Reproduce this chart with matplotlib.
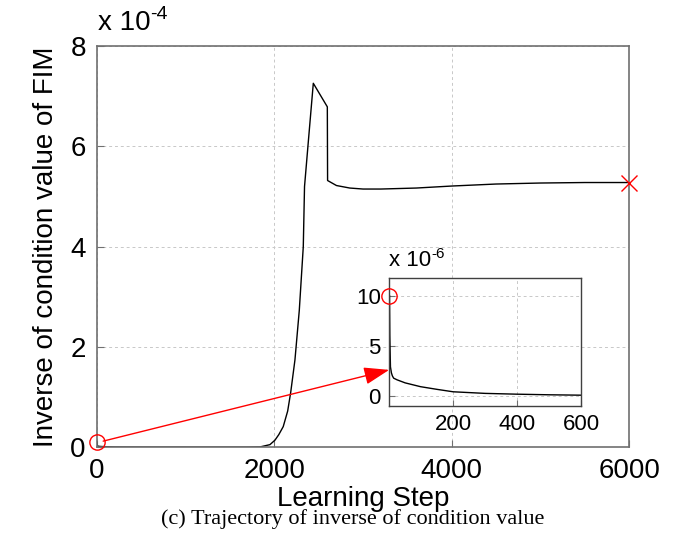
import numpy as np
import matplotlib
matplotlib.use("Agg")
import matplotlib.pyplot as plt

plt.rcParams['font.family'] = ['Liberation Sans', 'DejaVu Sans']

# main trajectory (values read in units of 1e-4)
steps = [0, 5, 15, 50, 100, 200, 400, 600, 1000, 1700, 1840, 1950, 2007, 2050,
         2100, 2150, 2184, 2232, 2281, 2326, 2340, 2383, 2439, 2597, 2600,
         2700, 2850, 3000, 3200, 3600, 4000, 4500, 5000, 5500, 6000]
inv_cond = [0.10, 0.03, 0.018, 0.013, 0.009, 0.004, 0.0017, 0.0007, 0.0003, 0.0003,
            0.005, 0.05, 0.14, 0.25, 0.41, 0.72, 1.09, 1.74, 2.73, 4.0, 5.2, 6.1,
            7.26, 6.79, 5.32, 5.22, 5.17, 5.15, 5.15, 5.17, 5.21, 5.25, 5.27, 5.28, 5.28]

# zoom of first 600 steps (units of 1e-6)
zoom_steps = [1, 2, 4, 7, 10, 14, 25, 50, 98, 150, 200, 300, 400, 500, 600]
zoom_vals = [10.0, 6.0, 2.9, 2.3, 2.0, 1.77, 1.6, 1.3, 0.92, 0.65, 0.41, 0.25, 0.17, 0.11, 0.07]

fig = plt.figure(figsize=(6.78, 5.5), dpi=100)
ax = fig.add_axes([0.143, 0.187, 0.785, 0.729])

gray = '#707070'
y = np.array(inv_cond) * 1e-4
ax.plot(steps, y, color='black', lw=1.0)
ax.plot(steps[0], y[0], 'o', mfc='none', mec='red', ms=11, mew=1.0, clip_on=False, zorder=5)
ax.plot(steps[-1], y[-1], 'x', color='red', ms=12, mew=1.0, clip_on=False, zorder=5)
ax.set_xlim(0, 6000)
ax.set_ylim(0, 8e-4)
ax.set_xticks([0, 2000, 4000, 6000])
ax.set_yticks(np.arange(0, 9e-4, 2e-4))
ax.set_yticklabels(['0', '2', '4', '6', '8'])
ax.tick_params(direction='in', labelsize=20, length=5, color=gray, pad=8)
ax.grid(True, ls=(0, (3, 3)), color='#c8c8c8', lw=0.7)
for s in ax.spines.values():
    s.set_color(gray)
    s.set_linewidth(1.2)
ax.set_xlabel('Learning Step', fontsize=20, labelpad=1)
ax.set_ylabel('Inverse of condition value of FIM', fontsize=20, labelpad=8)
ax.text(0.002, 1.025, 'x 10', transform=ax.transAxes, fontsize=20, va='bottom')
ax.text(0.1, 1.057, '-4', transform=ax.transAxes, fontsize=14, va='bottom')

ins = fig.add_axes([0.574, 0.262, 0.283, 0.233])
ins.plot(zoom_steps, zoom_vals, color='black', lw=1.0)
ins.plot(zoom_steps[0], zoom_vals[0], 'o', mfc='none', mec='red', ms=11, mew=1.0, clip_on=False, zorder=5)
ins.set_xlim(0, 600)
ins.set_ylim(-1.0, 11.8)
ins.set_xticks([200, 400, 600])
ins.set_yticks([0, 5, 10])
ins.tick_params(direction='in', labelsize=16, length=4, color=gray, pad=6)
ins.grid(True, ls=(0, (3, 3)), color='#c8c8c8', lw=0.7)
for s in ins.spines.values():
    s.set_color('#404040')
    s.set_linewidth(1.0)
ins.text(0.0, 1.05, 'x 10', transform=ins.transAxes, fontsize=16, va='bottom')
ins.text(0.222, 1.13, '-6', transform=ins.transAxes, fontsize=11, va='bottom')

ax.annotate('', xy=(0, 2.6), xycoords=ins.transData,
            xytext=(70, 0.12e-4), textcoords='data',
            arrowprops=dict(arrowstyle='-|>,head_length=1.3,head_width=0.45',
                            mutation_scale=12, color='red', lw=1.0,
                            shrinkA=0, shrinkB=0))

fig.text(0.52, 0.056, '(c) Trajectory of inverse of condition value',
         family='Liberation Serif', fontsize=16, ha='center', va='center')

fig.savefig('out.png', dpi=100)
